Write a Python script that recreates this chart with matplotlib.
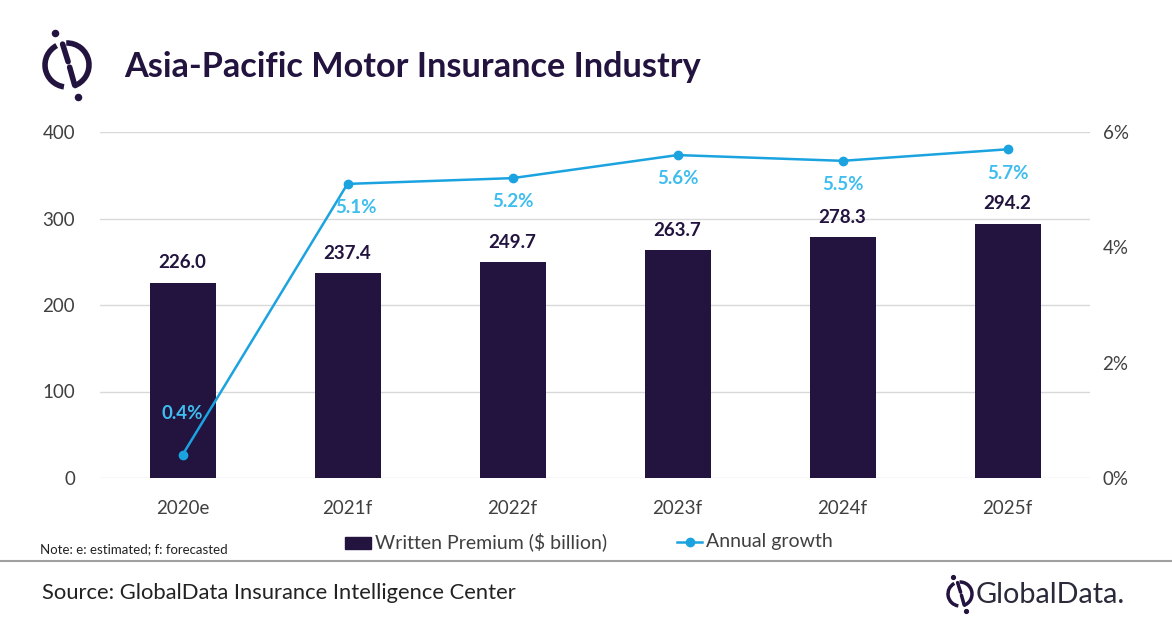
import numpy as np
import matplotlib
matplotlib.use("Agg")
import matplotlib.pyplot as plt
from matplotlib.patches import Arc, Rectangle
from matplotlib.lines import Line2D

# Donnees
annees = ["2020e", "2021f", "2022f", "2023f", "2024f", "2025f"]
primes = [226.0, 237.4, 249.7, 263.7, 278.3, 294.2]
croissance = [0.4, 5.1, 5.2, 5.6, 5.5, 5.7]

navy = "#22133f"
bleu = "#1ba3e0"
bleu_txt = "#3ebdef"
gris = "#404040"

plt.rcParams["font.family"] = ["Lato", "DejaVu Sans"]

fig = plt.figure(figsize=(11.72, 6.28), dpi=100)

# Axe principal
ax = fig.add_axes([100/1172, 1 - 478/628, 990/1172, 346/628])
x = np.arange(len(annees))
ax.bar(x, primes, width=0.4, color=navy, zorder=2)
ax.set_xlim(-0.5, len(annees) - 0.5)
ax.set_ylim(0, 400)
ax.set_yticks([0, 100, 200, 300, 400])
ax.set_xticks(x)
ax.set_xticklabels(annees)
ax.grid(axis="y", color="#d9d9d9", linewidth=1, zorder=0)
ax.set_axisbelow(True)
for s in ax.spines.values():
    s.set_visible(False)
ax.tick_params(length=0, labelsize=13.5, colors=gris, pad=16)
ax.tick_params(axis="y", pad=18)

for i, v in enumerate(primes):
    ax.annotate(f"{v:.1f}", (i, v), xytext=(0, 8), textcoords="offset points",
                ha="center", va="bottom", fontsize=13.5, fontweight="bold", color=navy)

# Axe secondaire (croissance)
ax2 = ax.twinx()
ax2.plot(x, croissance, color=bleu, marker="o", markersize=6, linewidth=1.8, zorder=3)
ax2.set_ylim(0, 6)
ax2.set_yticks([0, 2, 4, 6])
ax2.set_yticklabels(["0%", "2%", "4%", "6%"])
for s in ax2.spines.values():
    s.set_visible(False)
ax2.tick_params(length=0, labelsize=13.5, colors=gris, pad=9)

for i, v in enumerate(croissance):
    if i == 0:
        dy, dx = 24, 0
    else:
        dy, dx = -11, 6 if i == 1 else 0
    ax2.annotate(f"{v}%", (i, v), xytext=(dx, dy), textcoords="offset points",
                 ha="center", va="bottom" if dy > 0 else "top",
                 fontsize=13.5, fontweight="bold", color=bleu_txt)

# Titre
fig.text(124/1172, 1 - 67/628, "Asia-Pacific Motor Insurance Industry",
         fontsize=24.7, fontweight="bold", color=navy, va="center", ha="left")

# Logo
def logo(cx, cy, r, lw):
    lax = fig.add_axes([(cx - 2*r)/1172, 1 - (cy + 2*r)/628, 4*r/1172, 4*r/628])
    lax.set_xlim(-2, 2)
    lax.set_ylim(-2, 2)
    lax.axis("off")
    lax.add_patch(Arc((0, 0), 2, 2, theta1=118, theta2=262, lw=lw, color=navy))
    lax.add_patch(Arc((0, 0), 2, 2, theta1=-72, theta2=92, lw=lw, color=navy))
    lax.plot([-0.2, 0.05], [0.95, 0.15], color=navy, lw=lw, solid_capstyle="round")
    lax.plot([0.12, 0.35], [-0.1, -0.92], color=navy, lw=lw, solid_capstyle="round")
    lax.plot([-0.55], [1.45], "o", color=navy, ms=lw * 1.1)
    lax.plot([0.5], [-1.45], "o", color=navy, ms=lw * 1.1)

logo(67, 65, 22, 4)

# Legende
fig.patches.append(Rectangle((345/1172, 1 - 549/628), 26/1172, 12/628,
                             color=navy, transform=fig.transFigure))
fig.text(375/1172, 1 - 542/628, "Written Premium ($ billion)", fontsize=14,
         color=gris, va="center")
fig.lines.append(Line2D([677/1172, 702/1172], [1 - 542/628, 1 - 542/628],
                        color=bleu, lw=1.8, transform=fig.transFigure))
fig.lines.append(Line2D([689.5/1172], [1 - 542/628], color=bleu, marker="o",
                        ms=6, transform=fig.transFigure))
fig.text(706/1172, 1 - 542/628, "Annual growth", fontsize=14, color=gris, va="center")

fig.text(40/1172, 1 - 549/628, "Note: e: estimated; f: forecasted", fontsize=9.5,
         color="#222222", va="center")

# Pied de page
fig.lines.append(Line2D([0, 1], [1 - 561/628, 1 - 561/628], color="#a0a0a0",
                        lw=1.5, transform=fig.transFigure))
fig.text(42/1172, 1 - 593/628, "Source: GlobalData Insurance Intelligence Center",
         fontsize=15.8, color="#222222", va="center")
logo(960, 594, 12, 2.5)
fig.text(976/1172, 1 - 595/628, "GlobalData.", fontsize=20.8, color="#2a2a3a",
         va="center", ha="left")

fig.savefig("out.png", dpi=100)
